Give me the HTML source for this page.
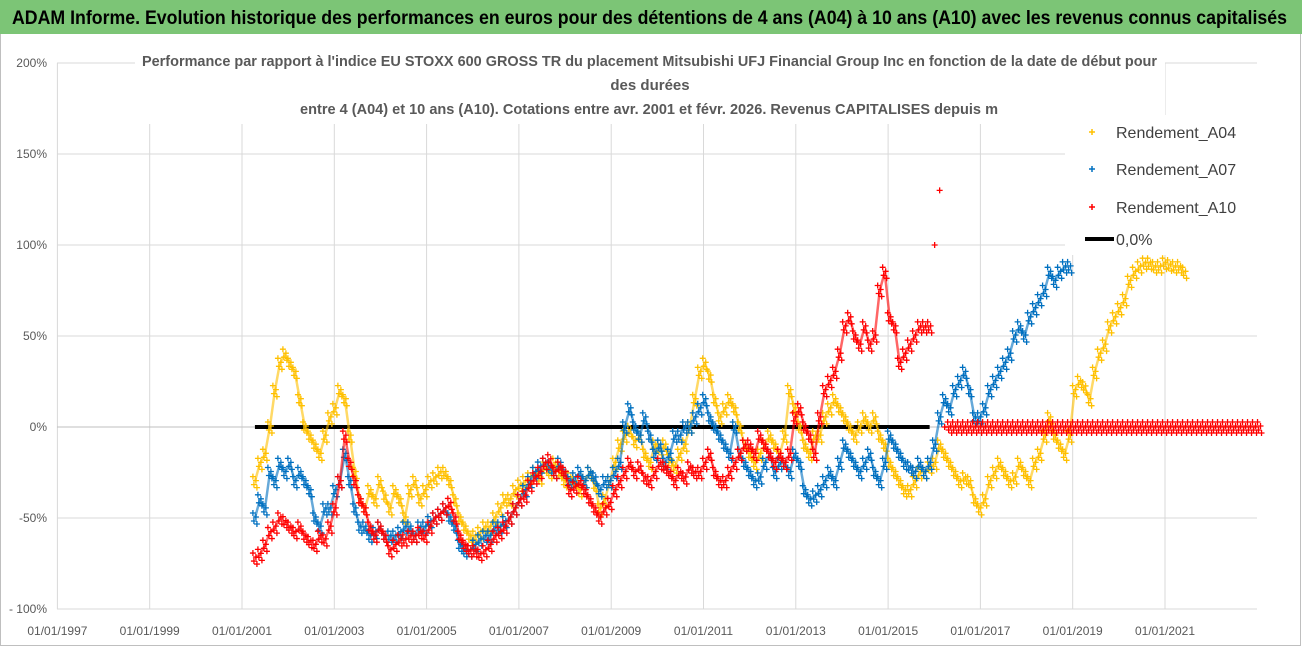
<!DOCTYPE html>
<html><head><meta charset="utf-8"><style>
html,body{margin:0;padding:0;background:#fff;}
svg{display:block;font-family:"Liberation Sans",sans-serif;}
</style></head><body>
<svg id="chart" width="1302" height="647" viewBox="0 0 1302 647">
<rect x="0" y="0" width="1302" height="647" fill="#fff"/>
<rect x="0.5" y="0.5" width="1300" height="645" fill="none" stroke="#bfbfbf"/>
<rect x="0" y="0" width="1302" height="34" fill="#7cc576"/>
<text x="12" y="24" font-size="19" font-weight="bold" fill="#000" textLength="1275" lengthAdjust="spacingAndGlyphs">ADAM Informe. Evolution historique des performances en euros pour des détentions de 4 ans (A04) à 10 ans (A10) avec les revenus connus capitalisés</text>
<g id="grid"></g>
<g id="axes"></g>
<rect x="135" y="44" width="1030" height="80" fill="#fff"/>
<text x="142" y="66" font-size="15" font-weight="bold" fill="#595959" textLength="1015" lengthAdjust="spacingAndGlyphs">Performance par rapport à l'indice EU STOXX 600 GROSS TR  du placement Mitsubishi UFJ Financial Group Inc en fonction de la date de début pour</text>
<text x="650" y="90" font-size="15" font-weight="bold" fill="#595959" text-anchor="middle">des durées</text>
<text x="300" y="114" font-size="15" font-weight="bold" fill="#595959" textLength="698" lengthAdjust="spacingAndGlyphs">entre 4 (A04) et 10 ans (A10). Cotations entre avr. 2001 et févr. 2026. Revenus CAPITALISES depuis m</text>
<g id="series"></g>
<rect x="1065" y="115" width="192" height="140" fill="#fff"/>
<g id="legend"></g>
</svg>
<script>
const yTicks=[200,150,100,50,0,-50,-100];
const yTickLabels=["200%","150%","100%","50%","0%","-50%","- 100%"];
const xTickYears=[1997,1999,2001,2003,2005,2007,2009,2011,2013,2015,2017,2019,2021];
const xTickLabels=["01/01/1997","01/01/1999","01/01/2001","01/01/2003","01/01/2005","01/01/2007","01/01/2009","01/01/2011","01/01/2013","01/01/2015","01/01/2017","01/01/2019","01/01/2021"];
const startYear=2001.28;
const stepYear=0.1083;
const a04=[-30,-20,-15,0,20,35,40,35,30,15,0,-5,-10,-15,-5,5,10,20,15,-5,-25,-40,-45,-35,-40,-30,-38,-45,-35,-40,-50,-35,-30,-40,-35,-30,-28,-25,-25,-30,-40,-50,-55,-60,-60,-58,-55,-55,-50,-45,-40,-40,-35,-32,-30,-28,-25,-28,-22,-25,-20,-25,-30,-28,-30,-35,-30,-25,-32,-45,-40,-30,-20,-10,-5,-2,-8,-5,-15,-20,-10,-12,-10,-18,-22,-15,-10,0,15,30,35,28,15,5,10,15,10,0,-10,-15,-20,-15,-10,-5,-10,-15,-5,20,10,0,-10,-15,-5,-5,5,10,15,10,5,0,-5,0,5,0,5,-5,-10,-20,-25,-30,-35,-35,-30,-25,-25,-22,-20,-10,-15,-20,-25,-30,-28,-30,-40,-45,-40,-30,-25,-20,-25,-30,-28,-20,-25,-30,-20,-15,-5,5,-5,-10,-15,-5,20,25,22,15,30,40,45,55,60,65,70,80,85,88,90,90,88,88,90,89,88,88,85];
const a07=[-50,-40,-45,-25,-30,-20,-25,-20,-30,-25,-30,-35,-50,-55,-45,-45,-35,-30,-15,-30,-45,-55,-55,-60,-58,-55,-60,-60,-60,-58,-55,-55,-60,-55,-55,-52,-50,-48,-45,-50,-55,-65,-68,-68,-65,-62,-60,-60,-55,-55,-52,-50,-45,-40,-35,-30,-25,-22,-20,-22,-25,-20,-25,-30,-28,-25,-30,-25,-28,-35,-30,-30,-25,-20,0,10,0,-5,5,-5,-15,-10,-20,-15,-5,-5,0,0,5,10,15,5,0,-5,-10,-15,0,-15,-20,-25,-30,-28,-20,-15,-25,-20,-20,-25,-15,-20,-35,-40,-38,-35,-30,-25,-30,-20,-10,-15,-20,-25,-20,-15,-25,-30,-20,-5,-10,-15,-20,-22,-25,-20,-25,-20,-10,5,15,10,20,25,30,20,5,5,10,20,25,30,35,40,50,55,50,60,65,70,75,85,80,85,88,88];
const a10=[-72,-70,-65,-58,-55,-50,-52,-55,-58,-55,-60,-63,-65,-60,-62,-55,-45,-30,-5,-20,-30,-40,-45,-55,-60,-55,-60,-68,-65,-62,-62,-60,-60,-58,-60,-55,-50,-48,-45,-42,-50,-60,-65,-68,-68,-70,-68,-65,-60,-58,-55,-50,-45,-40,-38,-32,-28,-25,-20,-18,-25,-22,-25,-35,-33,-30,-35,-40,-45,-50,-45,-42,-35,-30,-25,-20,-25,-22,-28,-30,-25,-20,-22,-25,-30,-25,-28,-22,-25,-25,-20,-15,-25,-30,-30,-25,-20,-15,-10,-10,-15,-5,-10,-15,-20,-15,-20,-15,5,10,0,-5,-15,5,20,25,30,40,55,60,50,45,55,45,50,75,85,60,55,35,40,45,50,55,55,55,100,130,0,0,0,0,0,0,0,0,0,0,0,0,0,0,0,0,0,0,0,0,0,0,0,0,0,0,0,0,0,0,0,0,0,0,0,0,0,0,0,0,0,0,0,0,0,0,0,0,0,0,0,0,0,0,0,0,0,0,0,0,0,0,0,0];
const zeroLineStart=2001.28;
const zeroLineEnd=2015.9;

const NS="http://www.w3.org/2000/svg";
function xs(yr){return 242+(yr-2001)*46.15;}
function ys(v){return 427-v*1.82;}
function mk(tag,attrs,parent){const e=document.createElementNS(NS,tag);for(const k in attrs)e.setAttribute(k,attrs[k]);parent.appendChild(e);return e;}
const grid=document.getElementById('grid'),axes=document.getElementById('axes'),series=document.getElementById('series'),legend=document.getElementById('legend');

yTicks.forEach((v,i)=>{
  if(v!==0&&v!==-100){const l=mk('line',{x1:57,x2:1257,y1:ys(v),y2:ys(v),stroke:'#d9d9d9','stroke-width':1},grid);
  
  }
  const t=mk('text',{x:47,y:ys(v)+4,'font-size':12,fill:'#595959','text-anchor':'end'},axes);
  t.textContent=yTickLabels[i];
  
  
});
xTickYears.forEach((yr,i)=>{
  const l=mk('line',{x1:xs(yr),x2:xs(yr),y1:ys(200),y2:ys(-100),stroke:'#d9d9d9','stroke-width':1},grid);
  
  
  const t=mk('text',{x:xs(yr),y:635,'font-size':12,fill:'#595959','text-anchor':'middle'},axes);
  t.textContent=xTickLabels[i];
  
  
});
const ax=mk('line',{x1:57,x2:1257,y1:ys(-100),y2:ys(-100),stroke:'#d9d9d9','stroke-width':1},axes);


const ax0=mk('line',{x1:57,x2:1257,y1:ys(0),y2:ys(0),stroke:'#bfbfbf','stroke-width':1},axes);



const jit=[[-2,-5],[1,-1],[-1,3],[2,6]];
function drawSeries(vals,color,name){
  const g=mk('g',{},series);
  
  
  let d='';
  vals.forEach((v,i)=>{const x=xs(startYear+i*stepYear),y=ys(v);
    const brk=i===0||Math.abs(v-vals[i-1])>25;
    d+=(brk?'M':'L')+x.toFixed(1)+' '+y.toFixed(1);});
  const p=mk('path',{d:d,fill:'none',stroke:color,'stroke-width':2.5,'stroke-linejoin':'round','stroke-opacity':0.6},g);
  
  
  vals.forEach((v,i)=>{
    const x=xs(startYear+i*stepYear),y=ys(v);
    const big=i>0&&Math.abs(v-vals[i-1])>25;
    (big?[[0,0]]:jit).forEach(o=>{
      const m=mk('path',{d:`M${x+o[0]-3} ${y+o[1]}h6M${x+o[0]} ${y+o[1]-3}v6`,stroke:color,'stroke-width':1.3},g);
      
      
    });
  });
}
const zl=mk('line',{x1:xs(zeroLineStart),x2:xs(zeroLineEnd),y1:ys(0),y2:ys(0),stroke:'#000','stroke-width':4},series);


drawSeries(a04,'#ffc000','series-a04');
drawSeries(a07,'#0070c0','series-a07');
drawSeries(a10,'#ff0000','series-a10');

const legItems=[["Rendement_A04","#ffc000",132],["Rendement_A07","#0070c0",169],["Rendement_A10","#ff0000",207]];
legItems.forEach(it=>{
  const m=mk('path',{d:`M${1089} ${it[2]}h6M1092 ${it[2]-3}v6`,stroke:it[1],'stroke-width':1.5},legend);
  
  
  const t=mk('text',{x:1116,y:it[2]+6,'font-size':16,fill:'#404040'},legend);
  t.textContent=it[0];
  
  
});
const ll=mk('line',{x1:1085,x2:1114,y1:239,y2:239,stroke:'#000','stroke-width':4},legend);


const lt=mk('text',{x:1116,y:245,'font-size':16,fill:'#404040'},legend);
lt.textContent="0,0%";


</script>
</body></html>
